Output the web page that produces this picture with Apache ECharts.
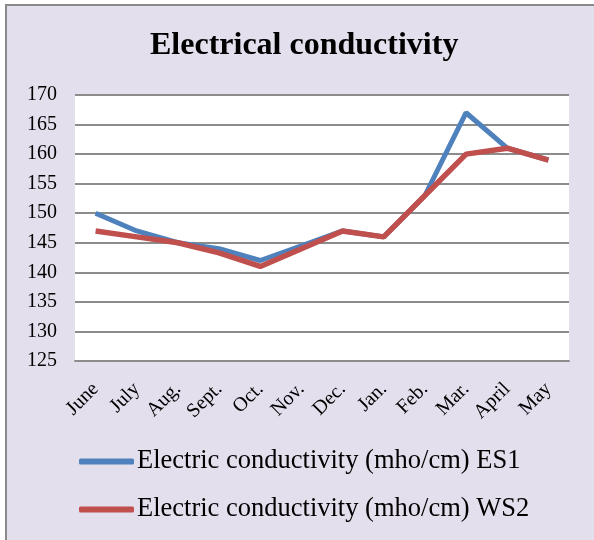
<!DOCTYPE html>
<html>
<head>
<meta charset="utf-8">
<title>Electrical conductivity</title>
<script src="https://cdn.jsdelivr.net/npm/echarts@6/dist/echarts.min.js"></script>
<style>
  html, body { margin: 0; padding: 0; background: #fff; }
  #myChart { width: 594px; height: 540px; }
</style>
</head>
<body>
<div id="myChart"></div>
<script>
// 月份
var months = ['June', 'July', 'Aug.', 'Sept.', 'Oct.', 'Nov.', 'Dec.', 'Jan.', 'Feb.', 'Mar.', 'April', 'May'];
// 两个站点的电导率
var es1Data = [150, 147, 145, 144, 142, 144.5, 147, 146, 153, 167, 161, 159];
var ws2Data = [147, 146, 145, 143.3, 141, 144, 147, 146, 153, 160, 161, 159];
var seriesNames = ['Electric conductivity (mho/cm) ES1', 'Electric conductivity (mho/cm) WS2'];
var yMin = 125, yMax = 170, yStep = 5;

var serif = '"Liberation Serif", "Times New Roman", serif';
var myChart = echarts.init(document.getElementById('myChart'));
var option = {
    backgroundColor: '#ffffff',
    color: ['#4f81bd', '#c0504d'],
    animation: false,
    graphic: [{
        type: 'rect',
        z: -10,
        shape: { x: 6, y: 5, width: 600, height: 550 },
        style: { fill: '#e4dfec' }
    }, {
        // 边框，只有左边和上边
        type: 'polyline',
        z: -9,
        shape: { points: [[6, 560], [6, 5], [600, 5]] },
        style: { fill: null, stroke: '#8a8a8a', lineWidth: 2 }
    }],
    title: {
        text: 'Electrical conductivity',
        left: 150,
        top: 30,
        padding: 0,
        textStyle: {
            fontFamily: serif,
            fontSize: 32,
            fontWeight: 'bold',
            color: '#000'
        }
    },
    grid: {
        left: 75,
        right: 25,
        top: 95,
        bottom: 179,
        show: true,
        backgroundColor: '#ffffff',
        borderWidth: 0
    },
    legend: {
        orient: 'vertical',
        left: 79,
        top: 448,
        padding: 0,
        itemGap: 21,
        itemWidth: 55,
        itemHeight: 6,
        icon: 'roundRect',
        data: seriesNames,
        textStyle: {
            fontFamily: serif,
            fontSize: 26.5,
            color: '#000',
            padding: [0, 0, 0, -2]
        }
    },
    xAxis: {
        type: 'category',
        data: months,
        boundaryGap: true,
        axisLine: { lineStyle: { color: '#8c8c8c', width: 2 } },
        axisTick: { show: false },
        axisLabel: {
            interval: 0,
            rotate: 45,
            margin: 25,
            fontFamily: serif,
            fontSize: 20,
            color: '#000'
        }
    },
    yAxis: {
        type: 'value',
        min: yMin,
        max: yMax,
        interval: yStep,
        axisLine: { show: false },
        axisTick: { show: false },
        splitLine: { lineStyle: { color: '#8c8c8c', width: 2 } },
        axisLabel: {
            margin: 18,
            fontFamily: serif,
            fontSize: 20,
            color: '#000'
        }
    },
    series: [{
        name: seriesNames[0],
        type: 'line',
        data: es1Data,
        symbol: 'none',
        lineStyle: { width: 5, color: '#4f81bd' }
    }, {
        name: seriesNames[1],
        type: 'line',
        data: ws2Data,
        symbol: 'none',
        lineStyle: { width: 5.5, color: '#c0504d' }
    }]
};
myChart.setOption(option);
</script>
</body>
</html>
